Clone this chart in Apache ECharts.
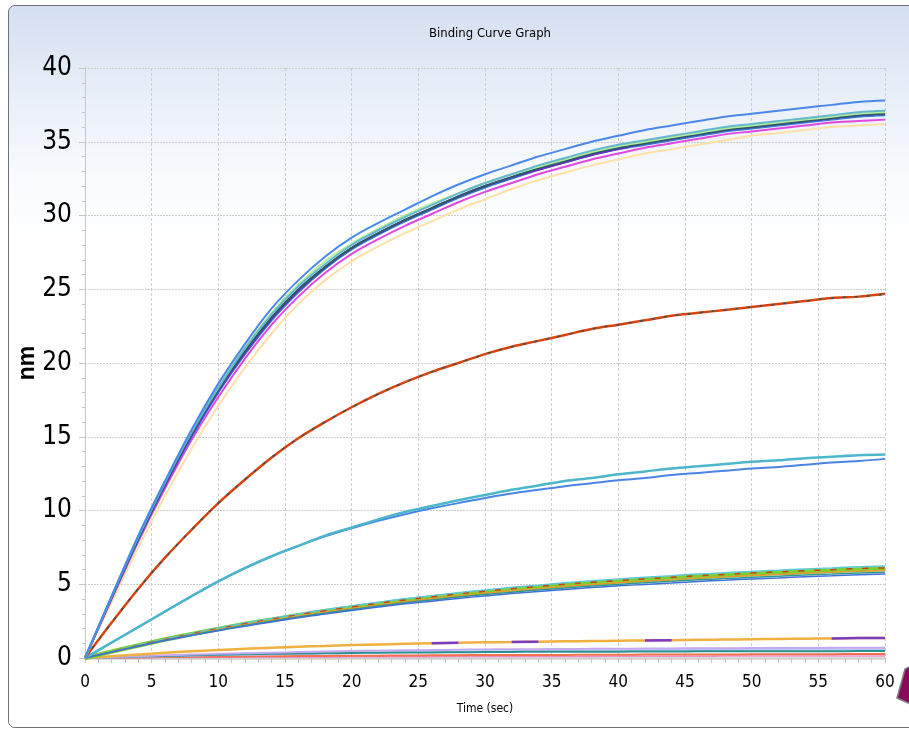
<!DOCTYPE html>
<html>
<head>
<meta charset="utf-8">
<script src="https://cdn.jsdelivr.net/npm/echarts@6/dist/echarts.min.js"></script>
<style>
  html, body { margin: 0; padding: 0; background: #ffffff; }
  #wrap { position: relative; width: 909px; height: 730px; overflow: hidden; }
  #frame {
    position: absolute; left: 8px; top: 5px; width: 940px; height: 721px;
    border: 1.5px solid #6e7276; border-radius: 7px;
    background: linear-gradient(to bottom, #d4dff1 0px, #e9eff9 90px, #f8fafd 170px, #ffffff 240px);
  }
  #chart { position: absolute; left: 0; top: 0; width: 909px; height: 730px; }
</style>
</head>
<body>
<div id="wrap">
  <div id="frame"></div>
  <div id="chart"></div>
</div>
<script>
// Sample times (seconds)
const timeSec = [0,2,4,6,8,10,12,14,16,18,20,22,24,26,28,30,32,34,36,38,40,42,44,46,48,50,52,54,56,58,60];

// Axis ticks
const xTicks = [0,5,10,15,20,25,30,35,40,45,50,55,60];
const yTicks = [0,5,10,15,20,25,30,35,40];

// Highest concentration group (~37 nm plateau)
const curveA1 = [0,4.2,8.3,12.0,15.5,18.6,21.3,23.7,25.6,27.2,28.5,29.5,30.4,31.3,32.1,32.8,33.4,34.0,34.5,35.0,35.4,35.8,36.1,36.4,36.7,36.9,37.1,37.3,37.5,37.7,37.8];
const curveA2 = [0,4.2,8.2,11.9,15.3,18.3,21.0,23.3,25.2,26.7,28.0,29.0,29.9,30.7,31.5,32.2,32.8,33.4,33.9,34.4,34.8,35.1,35.4,35.7,36.0,36.2,36.4,36.6,36.8,37.0,37.1];
const curveA3 = [0,4.2,8.3,12.0,15.4,18.4,21.1,23.4,25.3,26.9,28.1,29.1,30.0,30.8,31.5,32.2,32.8,33.3,33.8,34.3,34.7,35.0,35.3,35.6,35.9,36.1,36.3,36.5,36.7,36.9,37.0];
const curveA4 = [0,4.1,8.1,11.8,15.2,18.2,20.8,23.1,25.0,26.5,27.8,28.8,29.7,30.5,31.3,32.0,32.6,33.2,33.7,34.2,34.6,34.9,35.2,35.5,35.8,36.0,36.2,36.4,36.6,36.8,36.9];
const curveA5 = [0,4.1,8.0,11.7,15.0,18.0,20.6,22.9,24.8,26.4,27.7,28.7,29.6,30.4,31.2,31.9,32.5,33.1,33.6,34.1,34.5,34.8,35.1,35.4,35.7,35.9,36.1,36.3,36.5,36.7,36.8];
const curveA6 = [0,4.1,8.1,11.7,15.1,18.1,20.7,23.0,24.9,26.5,27.8,28.8,29.7,30.5,31.3,32.0,32.6,33.1,33.6,34.1,34.5,34.9,35.2,35.5,35.8,36.0,36.2,36.4,36.6,36.8,36.9];
const curveA7 = [0,4.0,7.9,11.5,14.8,17.7,20.3,22.6,24.5,26.1,27.4,28.4,29.3,30.1,30.9,31.6,32.2,32.8,33.3,33.8,34.2,34.6,34.9,35.2,35.5,35.7,35.9,36.1,36.3,36.4,36.5];
const curveA8 = [0,3.8,7.5,11.0,14.2,17.1,19.7,22.0,24.0,25.6,26.9,27.9,28.8,29.6,30.4,31.1,31.8,32.4,32.9,33.4,33.8,34.2,34.5,34.8,35.1,35.4,35.6,35.8,36.0,36.1,36.2];

// Second group (~25 nm)
const curveB1 = [0,2.4,4.7,6.8,8.7,10.5,12.1,13.6,14.9,16.0,17.0,17.9,18.7,19.4,20.0,20.6,21.1,21.5,21.9,22.3,22.6,22.9,23.2,23.4,23.6,23.8,24.0,24.2,24.4,24.5,24.7];
const curveB2 = [0,2.4,4.7,6.8,8.7,10.5,12.1,13.6,14.9,16.0,17.0,17.9,18.7,19.4,20.0,20.6,21.1,21.5,21.9,22.3,22.6,22.9,23.2,23.4,23.6,23.8,24.0,24.2,24.4,24.5,24.65];

// Third group (~14 nm)
const curveC1 = [0,1.05,2.1,3.15,4.2,5.2,6.1,6.9,7.6,8.3,8.85,9.4,9.9,10.3,10.7,11.05,11.4,11.7,12.0,12.2,12.45,12.65,12.85,13.0,13.15,13.3,13.4,13.55,13.65,13.75,13.8];
const curveC2 = [0,1.05,2.1,3.15,4.2,5.2,6.1,6.9,7.6,8.25,8.8,9.3,9.75,10.15,10.5,10.85,11.15,11.4,11.65,11.85,12.05,12.2,12.4,12.55,12.7,12.85,12.95,13.1,13.25,13.35,13.5];

// Fourth group (~6 nm)
const curveD1 = [0,0.43,0.85,1.25,1.62,1.97,2.3,2.6,2.9,3.17,3.43,3.67,3.9,4.1,4.3,4.48,4.65,4.8,4.95,5.08,5.2,5.31,5.42,5.52,5.61,5.7,5.78,5.86,5.93,6.0,6.05];
const curveD2 = [0,0.42,0.83,1.22,1.59,1.93,2.25,2.55,2.84,3.11,3.36,3.6,3.82,4.02,4.21,4.39,4.56,4.7,4.85,4.98,5.1,5.2,5.31,5.41,5.5,5.59,5.66,5.74,5.81,5.88,5.93];
const curveD3 = [0,0.43,0.86,1.26,1.64,1.99,2.32,2.63,2.93,3.2,3.46,3.71,3.94,4.14,4.34,4.52,4.7,4.85,5.0,5.13,5.25,5.36,5.47,5.58,5.67,5.76,5.84,5.92,5.99,6.06,6.11];
const curveD4 = [0,0.41,0.82,1.2,1.56,1.89,2.21,2.5,2.78,3.04,3.29,3.52,3.74,3.94,4.13,4.3,4.46,4.61,4.75,4.88,4.99,5.1,5.2,5.3,5.39,5.47,5.55,5.63,5.69,5.76,5.81];
const curveD5 = [0,0.4,0.8,1.18,1.52,1.85,2.16,2.44,2.73,2.98,3.22,3.45,3.67,3.85,4.04,4.21,4.37,4.51,4.65,4.78,4.89,4.99,5.09,5.19,5.27,5.36,5.43,5.51,5.57,5.64,5.69];
const curveD6 = [0,0.44,0.88,1.29,1.67,2.03,2.37,2.68,2.99,3.27,3.53,3.78,4.02,4.22,4.43,4.61,4.79,4.94,5.1,5.23,5.36,5.47,5.58,5.69,5.78,5.87,5.95,6.04,6.11,6.18,6.23];

// Low concentration curves (near baseline)
const curveE1 = [0,0.12,0.24,0.35,0.45,0.54,0.62,0.69,0.76,0.82,0.88,0.92,0.96,1.0,1.03,1.06,1.08,1.11,1.13,1.15,1.17,1.19,1.21,1.23,1.25,1.27,1.29,1.31,1.33,1.35,1.36];
const curveE2 = [null,null,null,null,null,null,null,null,null,null,null,null,null,1.0,1.03,null,1.08,1.11,null,null,null,1.19,1.21,null,null,null,null,null,1.33,1.35,1.36];
const curveE3 = [0,0.06,0.12,0.18,0.23,0.28,0.32,0.36,0.4,0.44,0.47,0.5,0.52,0.54,0.56,0.58,0.59,0.6,0.61,0.62,0.63,0.64,0.65,0.66,0.66,0.67,0.68,0.68,0.69,0.69,0.7];
const curveE4 = [0,0.05,0.1,0.14,0.18,0.22,0.25,0.28,0.3,0.32,0.34,0.36,0.37,0.38,0.39,0.4,0.41,0.42,0.42,0.43,0.43,0.44,0.44,0.45,0.45,0.45,0.46,0.46,0.46,0.47,0.47];
const curveE5 = [0,0.04,0.08,0.12,0.16,0.2,0.23,0.26,0.29,0.32,0.35,0.37,0.39,0.41,0.43,0.45,0.47,0.49,0.5,0.51,0.52,0.53,0.54,0.55,0.55,0.56,0.56,0.57,0.57,0.58,0.58];
const curveE6 = [0,0.02,0.04,0.06,0.08,0.1,0.11,0.12,0.13,0.14,0.15,0.16,0.17,0.18,0.19,0.2,0.2,0.21,0.21,0.22,0.22,0.23,0.23,0.24,0.24,0.25,0.25,0.26,0.26,0.27,0.27];
const curveE7 = [0,0.01,0.02,0.03,0.04,0.05,0.06,0.06,0.07,0.07,0.08,0.08,0.09,0.09,0.1,0.1,0.1,0.11,0.11,0.11,0.12,0.12,0.12,0.12,0.13,0.13,0.13,0.13,0.14,0.14,0.14];

const NARROW = '"Liberation Sans Narrow", "DejaVu Sans Condensed", "Arial Narrow", sans-serif';

function line(values, color, width, extra) {
  return Object.assign({
    type: 'line',
    data: values.map((v, i) => [timeSec[i], v]),
    showSymbol: false,
    smooth: 0.35,
    connectNulls: false,
    silent: true,
    lineStyle: { color: color, width: width },
    itemStyle: { color: color }
  }, extra || {});
}

const series = [
  // baseline group
  line(curveE7, '#f08cc8', 1.5),
  line(curveE6, '#f07050', 2),
  line(curveE5, '#b8c8f4', 2),
  line(curveE4, '#2a9090', 2),
  line(curveE3, '#c4a8f0', 2),
  line(curveE1, '#f0b040', 2.5),
  line(curveE2, '#7a3cc4', 2.5, { smooth: false }),
  // ~6 nm group
  line(curveD1, '#7ed02c', 4.5),
  line(curveD6, '#5cc8d8', 1.5),
  line(curveD3, '#c8401c', 1.5, { lineStyle: { color: '#c8401c', width: 1.5, type: [6, 10] } }),
  line(curveD2, '#e89a30', 1.5),
  line(curveD4, '#2e9a8c', 1.5),
  line(curveD5, '#3f70d8', 1.5),
  // ~14 nm group
  line(curveC2, '#4a84e4', 2),
  line(curveC1, '#4cb6cc', 2.5),
  // ~25 nm group
  line(curveB1, '#d8440e', 2.5),
  line(curveB2, '#33555c', 1.5, { lineStyle: { color: '#33555c', width: 1.5, type: [3, 9] } }),
  // ~37 nm group
  line(curveA8, '#ffe0a6', 2),
  line(curveA7, '#e048e0', 2),
  line(curveA5, '#3a76d6', 2),
  line(curveA6, '#6a2ec4', 2),
  line(curveA4, '#2c5a66', 2),
  line(curveA3, '#b4ec9c', 2),
  line(curveA2, '#62b8cc', 2),
  line(curveA1, '#4a88ea', 2)
];

const chart = echarts.init(document.getElementById('chart'), null, { renderer: 'canvas' });

chart.setOption({
  backgroundColor: 'transparent',
  animation: false,
  title: {
    text: 'Binding Curve Graph',
    left: 485,
    textAlign: 'center',
    top: 22,
    textStyle: { fontFamily: NARROW, fontSize: 13, fontWeight: 'normal', color: '#000' }
  },
  grid: { left: 85, right: 24, top: 68, bottom: 72, containLabel: false },
  xAxis: {
    type: 'value',
    min: xTicks[0],
    max: xTicks[xTicks.length - 1],
    interval: xTicks[1] - xTicks[0],
    name: 'Time (sec)',
    nameLocation: 'middle',
    nameGap: 45,
    nameMoveOverlap: false,
    nameTextStyle: { fontFamily: NARROW, fontSize: 12, color: '#000' },
    axisLine: { show: true, onZero: false, lineStyle: { color: '#d0d0d0', width: 2.5 } },
    axisTick: { show: true, length: 5, lineStyle: { color: '#c4c4c4' } },
    minorTick: { show: true, splitNumber: 5, length: 5, lineStyle: { color: '#c4c4c4' } },
    axisLabel: { fontFamily: NARROW, fontSize: 17, color: '#000', margin: 16 },
    splitLine: { show: true, lineStyle: { color: '#cdcdcd', type: [3, 2], width: 1 } }
  },
  yAxis: {
    type: 'value',
    min: yTicks[0],
    max: yTicks[yTicks.length - 1],
    interval: yTicks[1] - yTicks[0],
    name: 'nm',
    nameLocation: 'middle',
    nameGap: 46,
    nameRotate: 90,
    nameMoveOverlap: false,
    nameTextStyle: { fontFamily: '"Liberation Sans", Arial, sans-serif', fontSize: 23, fontWeight: 'bold', color: '#000' },
    axisLine: { show: true, lineStyle: { color: '#c8c8c8', width: 1 } },
    axisTick: { show: true, length: 6, lineStyle: { color: '#c4c4c4' } },
    minorTick: { show: true, splitNumber: 5, length: 3, lineStyle: { color: '#c4c4c4' } },
    axisLabel: { fontFamily: NARROW, fontSize: 26, color: '#000', margin: 13 },
    splitLine: { show: true, lineStyle: { color: '#cdcdcd', type: [2, 1], width: 1 } }
  },
  graphic: {
    elements: [
      {
        type: 'polygon',
        silent: true,
        z: 100,
        shape: { points: [[897, 698], [905, 669], [915, 664], [915, 706]] },
        style: { fill: '#8a0a5a', stroke: '#808088', lineWidth: 1.5 }
      }
    ]
  },
  series: series
});
</script>
</body>
</html>
